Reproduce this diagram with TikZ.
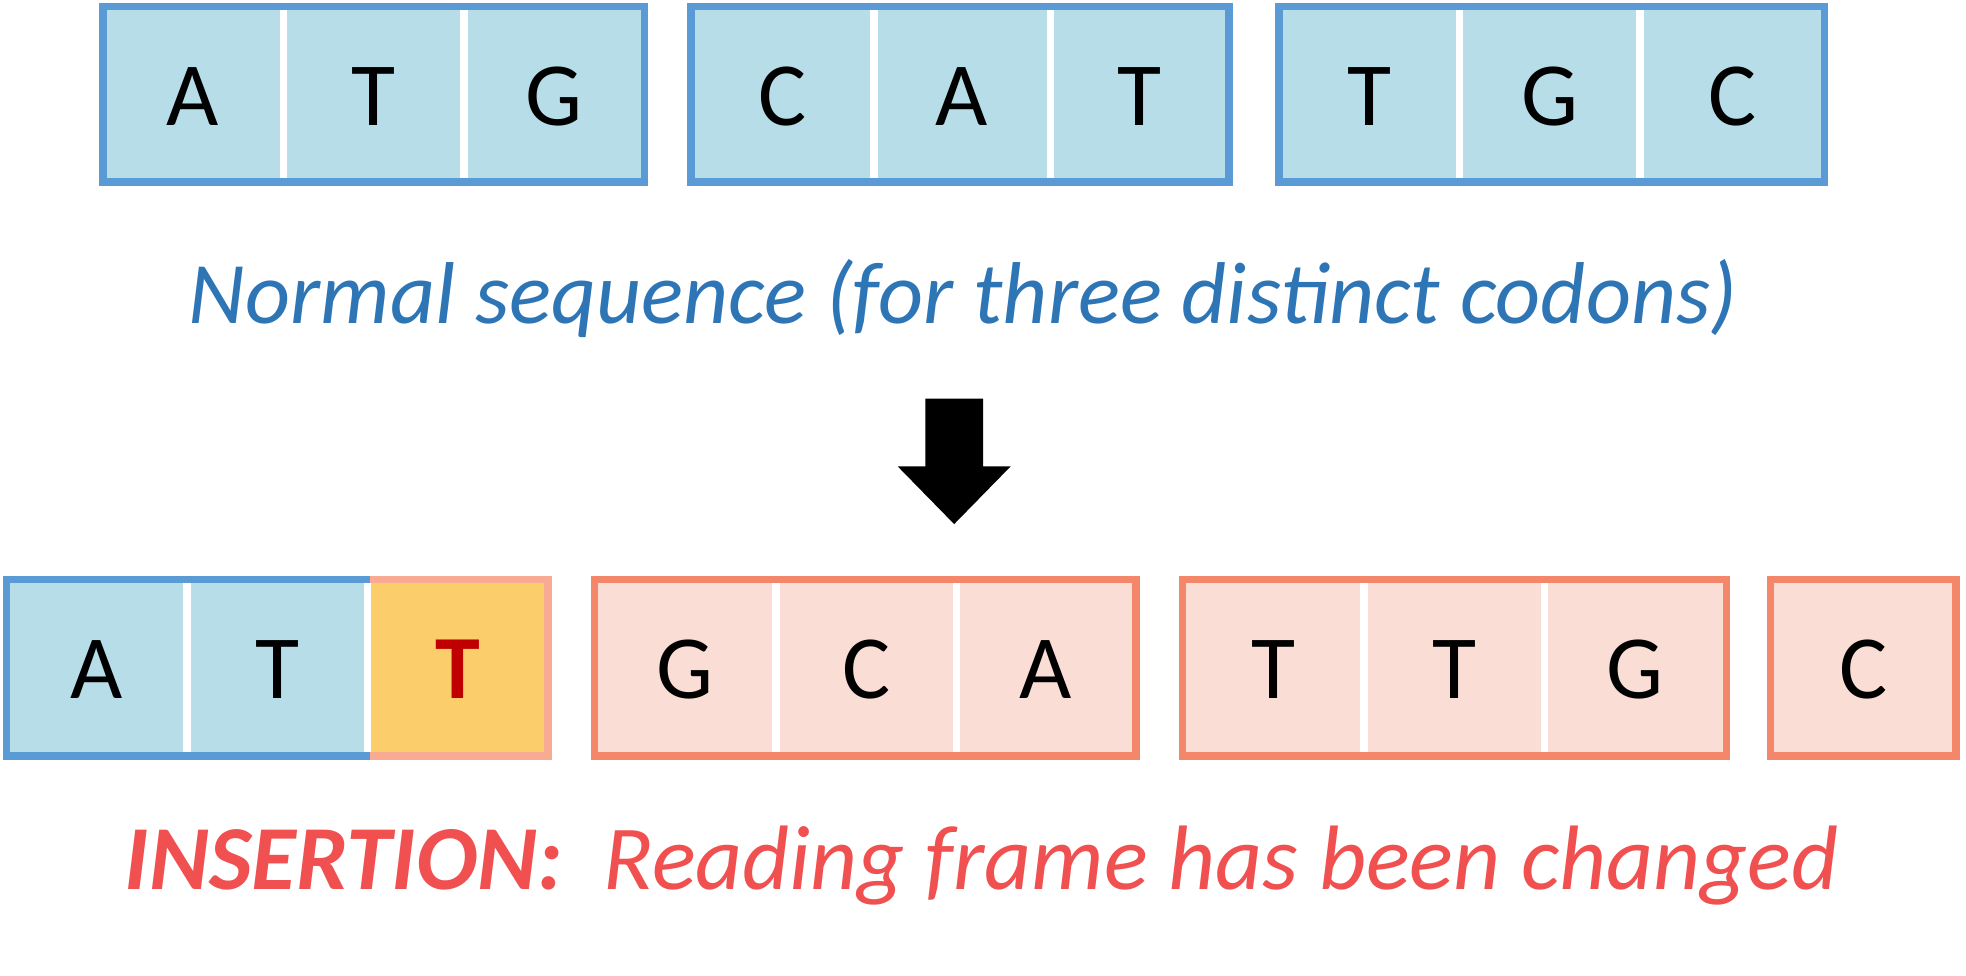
\documentclass[tikz,border=0pt]{standalone}
\usepackage{fontspec}
\setmainfont{Carlito}
\definecolor{bfill}{HTML}{B7DEE8}
\definecolor{bline}{HTML}{5B9BD5}
\definecolor{sfill}{HTML}{FADED6}
\definecolor{sline}{HTML}{F4876A}
\definecolor{sline2}{HTML}{F8AA92}
\definecolor{yfill}{HTML}{FBCD6B}
\definecolor{tred}{HTML}{C00000}
\definecolor{capblue}{HTML}{2E75B6}
\definecolor{capred}{HTML}{F0504F}
\tikzset{x=0.5pt,y=-0.5pt,
 letter/.style={font=\fontsize{36}{40}\selectfont,inner sep=0pt},
 sepline/.style={white,line width=3pt},
 captext/.style={font=\fontsize{35}{40}\selectfont\itshape,inner sep=0pt}}
\begin{document}
\begin{tikzpicture}
\useasboundingbox (0,0) rectangle (1568,778);
\newcommand{\codonbox}[6]{%
 \fill[#5] (#1,#3) rectangle (#2,#4);
 \draw[#6,line width=3pt] (#1,#3) rectangle (#2,#4);}
% top row
\codonbox{82}{514}{5}{145}{bfill}{bline}
\codonbox{551}{980}{5}{145}{bfill}{bline}
\codonbox{1020}{1455}{5}{145}{bfill}{bline}
\foreach \s in {226,370,697,838,1164,1308}
 \draw[sepline] (\s,8) -- (\s,142);
\node[letter] (t1) at (154,77) {A};
\node[letter] (t2) at (298,77) {T};
\node[letter] (t3) at (442,77) {G};
\node[letter] (t4) at (624,77) {C};
\node[letter] (t5) at (767,77) {A};
\node[letter] (t6) at (909,77) {T};
\node[letter] (t7) at (1092,77) {T};
\node[letter] (t8) at (1236,77) {G};
\node[letter] (t9) at (1382,77) {C};
\node[captext,text=capblue] (cap1) at (768,238) {Normal sequence (for three distinct codons)};
% arrow
\fill (738,318) -- (784,318) -- (784,372) -- (806,372) -- (761,418) -- (716,372) -- (738,372) -- cycle;
% bottom row
\fill[bfill] (5,462) rectangle (295,603);
\fill[yfill] (295,462) rectangle (437,603);
\draw[sline2,line width=3pt] (295,462) -- (437,462) -- (437,603) -- (295,603);
\draw[bline,line width=3pt] (295,462) -- (5,462) -- (5,603) -- (295,603);
\codonbox{474}{906}{462}{603}{sfill}{sline}
\codonbox{943}{1377}{462}{603}{sfill}{sline}
\codonbox{1412}{1560}{462}{603}{sfill}{sline}
\foreach \s in {149,293,619,763,1088,1232}
 \draw[sepline] (\s,465) -- (\s,600);
\node[letter] (b1) at (77,534) {A};
\node[letter] (b2) at (221,534) {T};
\node[letter,text=tred,font=\fontsize{36}{40}\selectfont\bfseries] (b3) at (365,534) {T};
\node[letter] (b4) at (546,534) {G};
\node[letter] (b5) at (691,534) {C};
\node[letter] (b6) at (834,534) {A};
\node[letter] (b7) at (1016,534) {T};
\node[letter] (b8) at (1160,534) {T};
\node[letter] (b9) at (1304,534) {G};
\node[letter] (b10) at (1486,534) {C};
\node[captext,text=capred,font=\fontsize{36.5}{40}\selectfont\itshape] (cap2) at (783,690) {\bfseries INSERTION:\mdseries\ \ Reading frame has been changed};
\end{tikzpicture}
\end{document}
